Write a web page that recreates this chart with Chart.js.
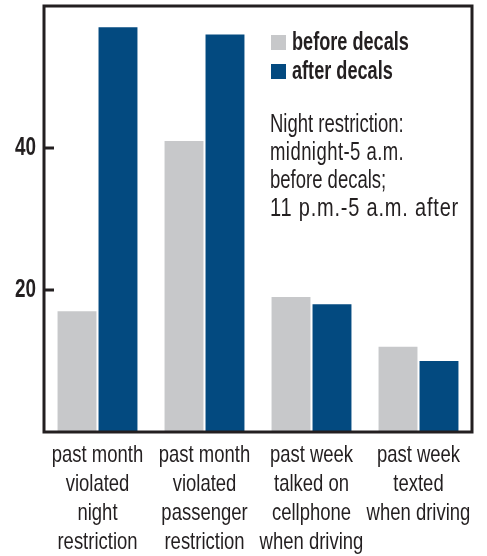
<!DOCTYPE html>
<html>
<head>
<meta charset="utf-8">
<script src="https://cdn.jsdelivr.net/npm/chart.js@4.4.1/dist/chart.umd.min.js"></script>
<style>
html,body{margin:0;padding:0;background:#fff;}
#wrap{width:487px;height:556px;}
</style>
</head>
<body>
<div id="wrap"><canvas id="c" width="487" height="556"></canvas></div>
<script>
const categories = [
  ["past month", "violated", "night", "restriction"],
  ["past month", "violated", "passenger", "restriction"],
  ["past week", "talked on", "cellphone", "when driving"],
  ["past week", "texted", "when driving"]
];
const seriesLabels = ["before decals", "after decals"];
const beforeValues = [17, 41, 19, 12];
const afterValues = [57, 56, 18, 10];
const yTicks = [20, 40];
const noteLines = ["Night restriction:", "midnight-5 a.m.", "before decals;", "11 p.m.-5 a.m. after"];

const FONT = "'Liberation Sans', Arial, 'DejaVu Sans', sans-serif";
const INK = "#231f20";
const GRAY = "#c7c8ca";
const BLUE = "#034a80";

// draw horizontally condensed text (the original uses a condensed face)
function condText(ctx, text, x, y, font, align, sx, spacing) {
  ctx.save();
  ctx.translate(x, y);
  ctx.scale(sx, 1);
  ctx.font = font;
  if (spacing) ctx.letterSpacing = spacing;
  ctx.textAlign = align;
  ctx.textBaseline = "alphabetic";
  ctx.fillStyle = INK;
  ctx.fillText(text, 0, 0);
  ctx.restore();
}

const framePlugin = {
  id: "frame",
  afterDatasetsDraw(chart) {
    const {ctx, chartArea: a, scales} = chart;
    ctx.save();
    ctx.strokeStyle = INK;
    ctx.lineWidth = 3;
    ctx.strokeRect(a.left, a.top, a.right - a.left, a.bottom - a.top);
    // y ticks: inward marks + labels
    yTicks.forEach(v => {
      const y = scales.y.getPixelForValue(v);
      ctx.beginPath();
      ctx.moveTo(a.left, y);
      ctx.lineTo(a.left + 10, y);
      ctx.stroke();
      condText(ctx, String(v), a.left - 8, y + 7, "bold 25px " + FONT, "right", 0.755);
    });
    // x category labels
    categories.forEach((lines, i) => {
      const x = scales.x.getPixelForTick(i);
      lines.forEach((t, j) => {
        condText(ctx, t, x, a.bottom + 29.5 + j * 29.3, "24px " + FONT, "center", 0.77);
      });
    });
    // legend
    const lx = 271;
    const rows = [50, 79];
    chart.data.datasets.forEach((ds, i) => {
      ctx.fillStyle = ds.backgroundColor;
      ctx.fillRect(lx, rows[i] - 15, 15, 15);
      condText(ctx, ds.label, lx + 21, rows[i], "bold 25px " + FONT, "left", 0.725);
    });
    // note
    noteLines.forEach((t, i) => {
      const last = i === noteLines.length - 1;
      const sp = last ? "1px" : (i === 1 ? "0.6px" : null);
      condText(ctx, t, 270, 132 + i * 28, "25px " + FONT, "left", last ? 0.8 : 0.74, sp);
    });
    ctx.restore();
  }
};

new Chart(document.getElementById("c"), {
  type: "bar",
  data: {
    labels: categories,
    datasets: [
      {label: seriesLabels[0], data: beforeValues, backgroundColor: GRAY, borderWidth: 0},
      {label: seriesLabels[1], data: afterValues, backgroundColor: BLUE, borderWidth: 0}
    ]
  },
  options: {
    responsive: false,
    animation: false,
    devicePixelRatio: 1,
    layout: {padding: {top: 6, right: 15, left: 0, bottom: 0}},
    datasets: {bar: {categoryPercentage: 0.766, barPercentage: 0.95}},
    plugins: {legend: {display: false}, tooltip: {enabled: false}},
    scales: {
      x: {
        grid: {display: false, drawTicks: false},
        border: {display: false},
        ticks: {display: false},
        afterFit(s) { s.height = 124; s.paddingLeft = 0; s.paddingRight = 0; }
      },
      y: {
        min: 0,
        max: 60,
        grid: {display: false, drawTicks: false},
        border: {display: false},
        afterBuildTicks(s) { s.ticks = yTicks.map(v => ({value: v})); },
        ticks: {display: false},
        afterFit(s) { s.width = 44; s.paddingTop = 0; s.paddingBottom = 0; }
      }
    }
  },
  plugins: [framePlugin]
});
</script>
</body>
</html>
